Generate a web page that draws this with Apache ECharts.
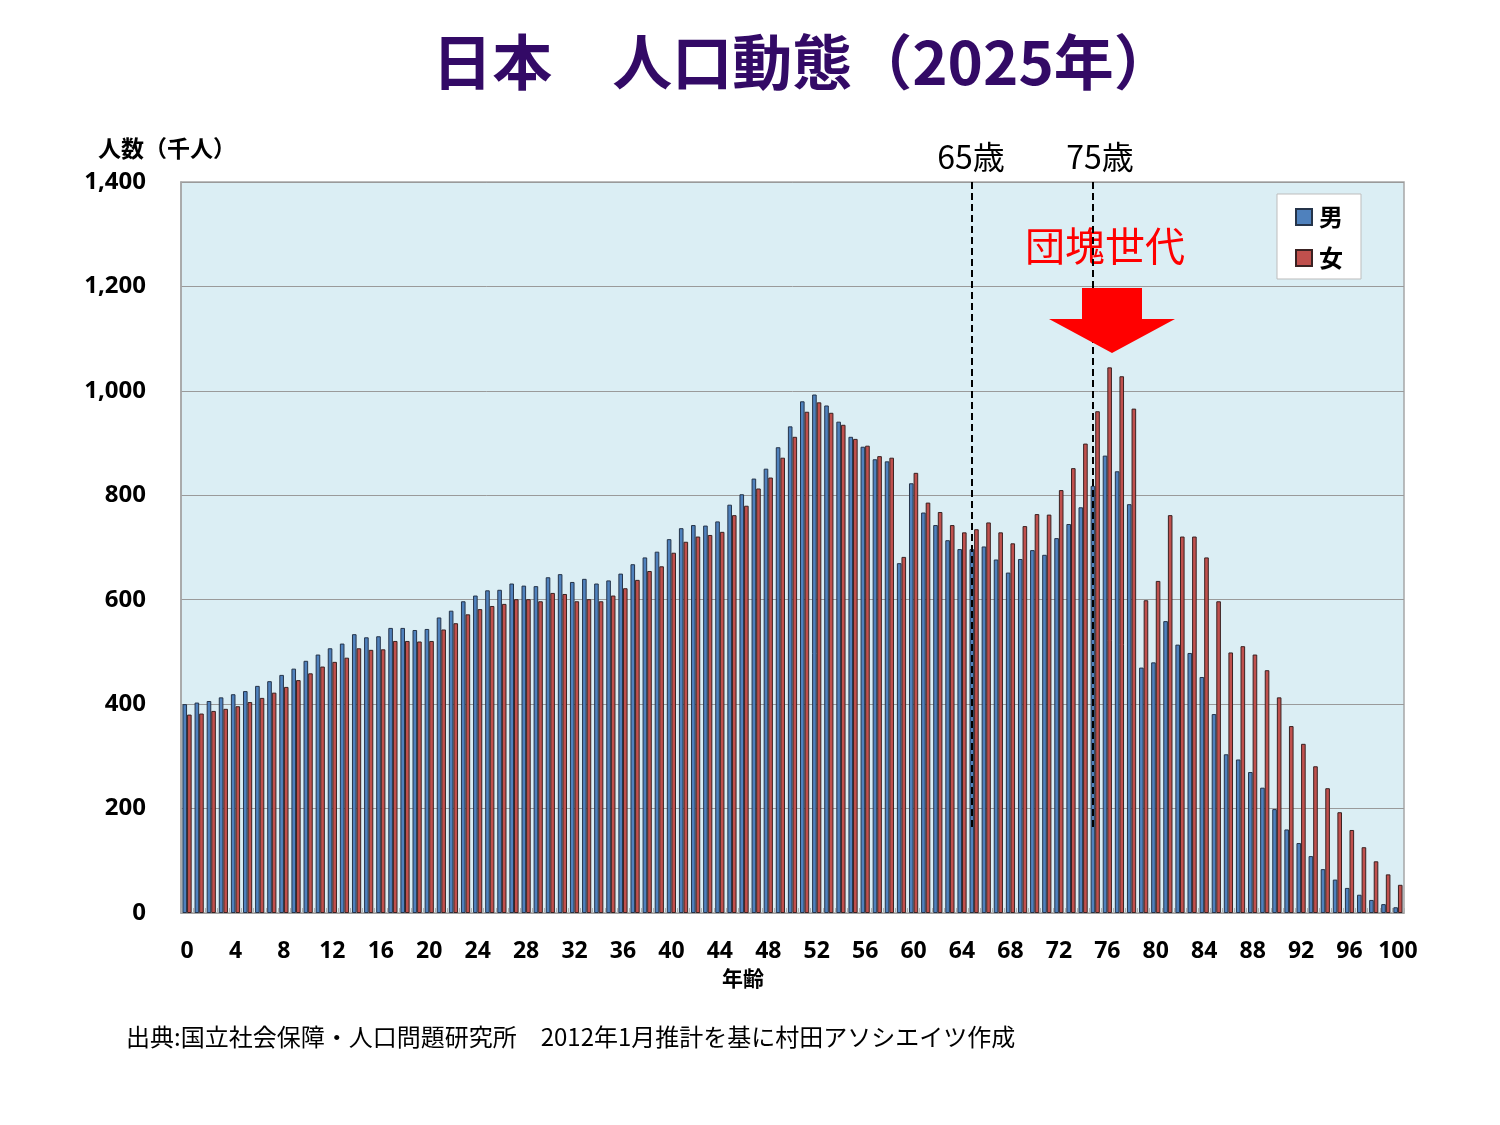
<!DOCTYPE html>
<html>
<head>
<meta charset="utf-8">
<script src="https://cdn.jsdelivr.net/npm/echarts@6/dist/echarts.min.js"></script>
<style>
html,body{margin:0;padding:0;background:#fff;}
#chart{width:1500px;height:1125px;}
</style>
</head>
<body>
<div id="chart"></div>
<script>
// Ages 0..100
var ages = [];
for (var i = 0; i <= 100; i++) ages.push(String(i));

var male = [400,403,406,413,419,425,435,444,456,468,483,495,507,516,534,528,530,546,546,542,544,
  566,579,597,608,618,619,631,627,626,643,649,634,640,631,637,650,668,681,692,
  716,737,743,742,750,782,802,832,851,892,932,980,993,972,941,912,893,869,865,670,
  823,767,743,714,697,697,702,677,652,678,695,686,718,745,777,818,876,846,783,
  470,480,559,514,498,452,381,304,294,270,240,199,160,134,109,84,64,48,35,25,17,11];

var female = [380,382,387,391,396,404,412,422,433,446,459,472,481,489,507,504,505,521,521,520,521,
  543,555,572,582,588,592,601,601,597,613,611,597,601,597,608,622,638,655,664,
  690,711,721,724,730,762,780,813,834,872,912,960,978,958,935,908,895,875,872,682,
  843,786,768,743,729,735,748,729,708,741,764,763,810,852,899,961,1045,1028,966,
  599,636,762,721,721,681,597,499,511,495,465,413,358,324,281,239,193,159,126,99,74,54];

var seriesNames = ['男', '女'];
var markAges = [65, 75];
var markLabels = ['65歳', '75歳'];
var yTicks = {min: 0, max: 1400, interval: 200};

var chart = echarts.init(document.getElementById('chart'));
var numFont = '"Open Sans", "Noto Sans", sans-serif';
var cjk = '"Noto Sans CJK JP", "Noto Sans", sans-serif';

var option = {
  animation: false,
  backgroundColor: '#ffffff',
  grid: {
    left: 181, right: 96, top: 182, bottom: 212,
    show: true, backgroundColor: '#dbeef4', borderColor: '#a6a6a6', borderWidth: 1.5
  },
  legend: {
    data: seriesNames,
    orient: 'vertical',
    left: 1277, top: 194,
    padding: [11, 18, 9, 18],
    itemGap: 17,
    itemWidth: 16, itemHeight: 16,
    icon: 'rect',
    backgroundColor: '#ffffff',
    borderColor: '#bdbdbd', borderWidth: 1,
    textStyle: {fontFamily: cjk, fontSize: 24, fontWeight: 'bold', color: '#000', padding: [0,0,0,2]}
  },
  xAxis: {
    type: 'category',
    data: ages,
    axisLine: {lineStyle: {color: '#a6a6a6', width: 1.5}},
    axisTick: {show: true, interval: 0, inside: true, length: 5, lineStyle: {color: '#b0b0b0'}},
    axisLabel: {interval: 3, margin: 27, fontFamily: numFont, fontSize: 23, fontWeight: 'bold', color: '#000'},
    splitLine: {show: false}
  },
  yAxis: {
    type: 'value',
    min: yTicks.min, max: yTicks.max, interval: yTicks.interval,
    axisLine: {show: true, lineStyle: {color: '#a6a6a6', width: 1.5}},
    axisTick: {show: false},
    axisLabel: {
      margin: 35, fontFamily: numFont, fontSize: 24, fontWeight: 'bold', color: '#000',
      formatter: function (v) { return v.toLocaleString('en-US'); }
    },
    splitLine: {lineStyle: {color: '#9a9a9a', width: 1}}
  },
  series: [
    {
      name: seriesNames[0], type: 'bar', data: male,
      barWidth: 4.6, barGap: '0%',
      itemStyle: {color: '#4f81bd', borderColor: '#25344a', borderWidth: 1},
      markLine: {
        silent: true, symbol: ['none', 'none'],
        label: {show: false},
        lineStyle: {color: '#000', type: [7, 4], width: 2},
        data: markAges.map(function (a) {
          return [{coord: [a, 1400]}, {coord: [a, 160]}];
        })
      }
    },
    {
      name: seriesNames[1], type: 'bar', data: female,
      barWidth: 4.6, barGap: '0%',
      itemStyle: {color: '#c0504d', borderColor: '#3a2222', borderWidth: 1}
    }
  ],
  graphic: [
    {type: 'text', style: {text: '日本　人口動態（2025年）', x: 803, y: 62, align: 'center', verticalAlign: 'middle',
      fontFamily: cjk, fontSize: 60, fontWeight: 'bold', fill: '#330a66'}},
    {type: 'text', style: {text: '人数（千人）', x: 167, y: 148, align: 'center', verticalAlign: 'middle',
      fontFamily: cjk, fontSize: 23, fontWeight: 'bold', fill: '#000'}},
    {type: 'text', style: {text: '年齢', x: 743, y: 978, align: 'center', verticalAlign: 'middle',
      fontFamily: cjk, fontSize: 21, fontWeight: 'bold', fill: '#000'}},
    {type: 'text', style: {text: markLabels[0], x: 971, y: 157, align: 'center', verticalAlign: 'middle',
      fontFamily: cjk, fontSize: 32, fill: '#000'}},
    {type: 'text', style: {text: markLabels[1], x: 1100, y: 157, align: 'center', verticalAlign: 'middle',
      fontFamily: cjk, fontSize: 32, fill: '#000'}},
    {type: 'text', style: {text: '団塊世代', x: 1105, y: 246, align: 'center', verticalAlign: 'middle',
      fontFamily: cjk, fontSize: 40, fill: '#ff0000'}},
    {type: 'polygon', shape: {points: [[1082,288],[1142,288],[1142,319],[1175,319],[1112,353],[1049,319],[1082,319]]},
      style: {fill: '#ff0000'}, z: 10},
    {type: 'text', style: {text: '出典:国立社会保障・人口問題研究所　2012年1月推計を基に村田アソシエイツ作成', x: 126, y: 1037,
      align: 'left', verticalAlign: 'middle', fontFamily: cjk, fontSize: 24, fill: '#000'}}
  ]
};
chart.setOption(option);
</script>
</body>
</html>
